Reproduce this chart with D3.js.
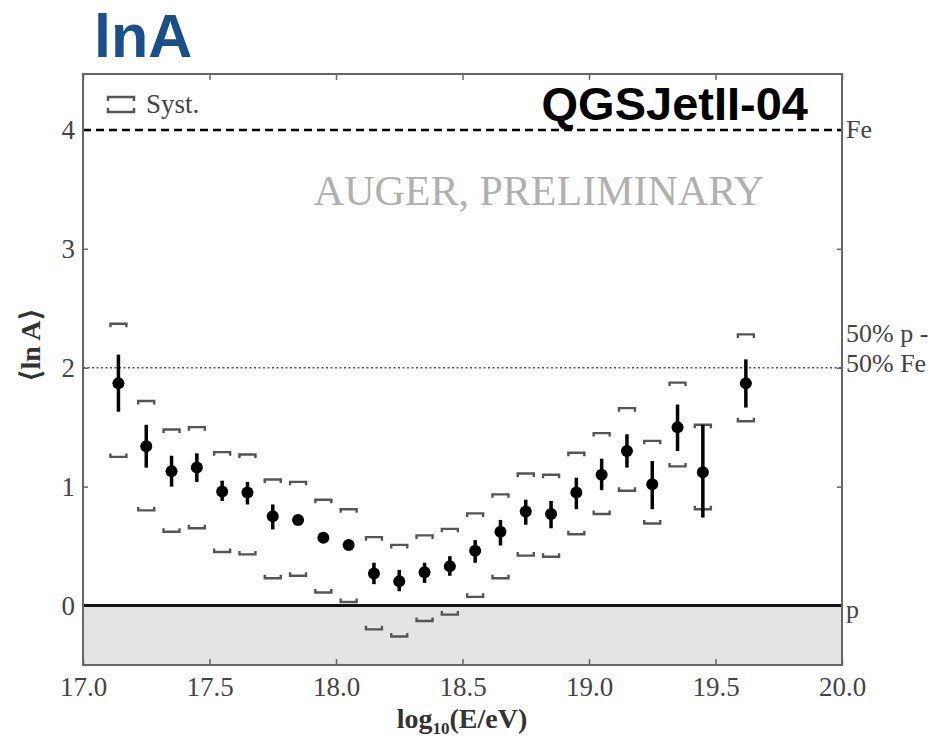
<!DOCTYPE html>
<html>
<head>
<meta charset="utf-8">
<script src="https://cdn.jsdelivr.net/npm/d3@7"></script>
<style>
  html, body { margin: 0; padding: 0; background: #fff; }
  svg { display: block; }
</style>
</head>
<body>
<svg id="chart" width="938" height="740"></svg>
<script>
// ---- data ----
const logE   = [17.14, 17.25, 17.35, 17.45, 17.55, 17.65, 17.75, 17.85, 17.95, 18.05,
                18.15, 18.25, 18.35, 18.45, 18.55, 18.65, 18.75, 18.85, 18.95, 19.05,
                19.15, 19.25, 19.35, 19.45, 19.62];
const lnA    = [1.87, 1.34, 1.13, 1.16, 0.96, 0.95, 0.75, 0.72, 0.57, 0.51,
                0.27, 0.205, 0.28, 0.33, 0.46, 0.62, 0.79, 0.77, 0.95, 1.10,
                1.30, 1.02, 1.50, 1.12, 1.87];
const statLo = [1.63, 1.16, 1.00, 1.04, 0.88, 0.85, 0.64, 0.68, 0.54, 0.48,
                0.18, 0.12, 0.19, 0.25, 0.36, 0.505, 0.68, 0.65, 0.81, 0.97,
                1.16, 0.81, 1.30, 0.74, 1.665];
const statHi = [2.11, 1.52, 1.26, 1.28, 1.05, 1.04, 0.85, 0.76, 0.60, 0.54,
                0.36, 0.30, 0.36, 0.415, 0.55, 0.72, 0.89, 0.88, 1.075, 1.235,
                1.44, 1.215, 1.69, 1.52, 2.07];
const systLo = [1.25, 0.80, 0.62, 0.65, 0.45, 0.43, 0.23, 0.25, 0.11, 0.03,
                -0.20, -0.26, -0.13, -0.076, 0.073, 0.23, 0.42, 0.41, 0.60, 0.77,
                0.965, 0.69, 1.17, 0.81, 1.55];
const systHi = [2.37, 1.72, 1.48, 1.50, 1.29, 1.27, 1.06, 1.04, 0.89, 0.81,
                0.575, 0.51, 0.59, 0.645, 0.775, 0.935, 1.11, 1.10, 1.285, 1.45,
                1.66, 1.385, 1.875, 1.52, 2.28];
const xTicks = [17.0, 17.5, 18.0, 18.5, 19.0, 19.5, 20.0];
const yTicks = [0, 1, 2, 3, 4];
const refLevels = [
  {value: 4, kind: "fe"},
  {value: 2, kind: "mix"},
  {value: 0, kind: "p"}
];

// ---- layout ----
const svg = d3.select("#chart");
const L = 83, R = 842, T = 74, B = 665;
const x = d3.scaleLinear().domain([17, 20]).range([L, R]);
const y = d3.scaleLinear().domain([-0.5, 4.47]).range([B, T]);
const serif = "'Liberation Serif','Times New Roman',serif";
const sans = "'Liberation Sans',Arial,Helvetica,sans-serif";

// title
svg.append("text").attr("x", 94).attr("y", 57)
  .attr("font-family", sans).attr("font-weight", "bold").attr("font-size", 61)
  .attr("fill", "#1a4f8a").text("lnA");

// proton region fill
svg.append("rect").attr("x", L).attr("y", y(0)).attr("width", R - L).attr("height", B - y(0))
  .attr("fill", "#e4e4e4");

// axes (inward ticks)
const axisCol = "#666";
function styleAxis(g) {
  g.select(".domain").remove();
  g.selectAll(".tick line").attr("stroke", axisCol).attr("stroke-width", 1.5);
}
svg.append("g").attr("transform", `translate(0,${B})`)
  .call(d3.axisBottom(x).tickValues(xTicks).tickSize(-6).tickPadding(12).tickFormat(d3.format(".1f")))
  .call(styleAxis)
  .call(g => g.selectAll("text").attr("font-family", serif).attr("font-size", 27).attr("fill", "#444"));
svg.append("g").attr("transform", `translate(0,${T})`)
  .call(d3.axisTop(x).tickValues(xTicks).tickSize(-6).tickFormat(""))
  .call(styleAxis);
svg.append("g").attr("transform", `translate(${L},0)`)
  .call(d3.axisLeft(y).tickValues(yTicks).tickSize(-5).tickPadding(8).tickFormat(d3.format("d")))
  .call(styleAxis)
  .call(g => g.selectAll("text").attr("font-family", serif).attr("font-size", 27).attr("fill", "#444"));
svg.append("g").attr("transform", `translate(${R},0)`)
  .call(d3.axisRight(y).tickValues(yTicks).tickSize(-5).tickFormat(""))
  .call(styleAxis);

// reference lines
refLevels.forEach(r => {
  const ln = svg.append("line").attr("x1", L).attr("x2", R).attr("y1", y(r.value)).attr("y2", y(r.value));
  if (r.kind === "fe") ln.attr("stroke", "#000").attr("stroke-width", 2.5).attr("stroke-dasharray", "8,5");
  else if (r.kind === "mix") ln.attr("stroke", "#555").attr("stroke-width", 1.5).attr("stroke-dasharray", "2,2.5");
  else ln.attr("stroke", "#111").attr("stroke-width", 3);
});

// frame
svg.append("rect").attr("x", L).attr("y", T).attr("width", R - L).attr("height", B - T)
  .attr("fill", "none").attr("stroke", axisCol).attr("stroke-width", 2);

// right labels
const rl = svg.append("g").attr("font-family", serif).attr("font-size", 26).attr("fill", "#444");
rl.append("text").attr("x", R + 4).attr("y", y(4) + 8).text("Fe");
rl.append("text").attr("x", R + 4).attr("y", y(2) - 26).text("50% p -");
rl.append("text").attr("x", R + 4).attr("y", y(2) + 4).text("50% Fe");
rl.append("text").attr("x", R + 4).attr("y", y(0) + 12).text("p");

// watermark
svg.append("text").attr("x", 539).attr("y", 205).attr("text-anchor", "middle")
  .attr("font-family", serif).attr("font-size", 42).attr("fill", "#b0b0b0")
  .text("AUGER, PRELIMINARY");

// model label
svg.append("text").attr("x", 808).attr("y", 120).attr("text-anchor", "end")
  .attr("font-family", sans).attr("font-weight", "bold").attr("font-size", 47)
  .attr("fill", "#000").text("QGSJetII-04");

// legend
const bracketUp = (cx, cy, w, h) => `M${cx - w / 2},${cy + h}V${cy}H${cx + w / 2}V${cy + h}`;
const bracketDn = (cx, cy, w, h) => `M${cx - w / 2},${cy - h}V${cy}H${cx + w / 2}V${cy - h}`;
const leg = svg.append("g");
leg.append("path").attr("d", bracketUp(121, 97, 26, 4)).attr("fill", "none").attr("stroke", "#555").attr("stroke-width", 2.5);
leg.append("path").attr("d", bracketDn(121, 112, 26, 4)).attr("fill", "none").attr("stroke", "#555").attr("stroke-width", 2.5);
leg.append("text").attr("x", 146).attr("y", 113).attr("font-family", serif).attr("font-size", 27)
  .attr("fill", "#444").text("Syst.");

// data
const data = logE.map((e, i) => ({e, v: lnA[i], lo: statLo[i], hi: statHi[i], sl: systLo[i], sh: systHi[i]}));
const g = svg.append("g");
g.selectAll("path.sh").data(data).join("path").attr("class", "sh")
  .attr("d", d => bracketUp(x(d.e), y(d.sh), 16, 3.5))
  .attr("fill", "none").attr("stroke", "#555").attr("stroke-width", 2.4);
g.selectAll("path.sl").data(data).join("path").attr("class", "sl")
  .attr("d", d => bracketDn(x(d.e), y(d.sl), 16, 3.5))
  .attr("fill", "none").attr("stroke", "#555").attr("stroke-width", 2.4);
g.selectAll("line.err").data(data).join("line").attr("class", "err")
  .attr("x1", d => x(d.e)).attr("x2", d => x(d.e))
  .attr("y1", d => y(d.lo)).attr("y2", d => y(d.hi))
  .attr("stroke", "#000").attr("stroke-width", 3.5);
g.selectAll("circle").data(data).join("circle")
  .attr("cx", d => x(d.e)).attr("cy", d => y(d.v)).attr("r", 6).attr("fill", "#000");

// axis titles
const xl = svg.append("text").attr("x", 462).attr("y", 728).attr("text-anchor", "middle")
  .attr("font-family", serif).attr("font-weight", "bold").attr("font-size", 28).attr("fill", "#333");
xl.append("tspan").text("log");
xl.append("tspan").attr("font-size", 17).attr("dy", 6).text("10");
xl.append("tspan").attr("dy", -6).text("(E/eV)");

svg.append("text").attr("transform", "translate(40,345) rotate(-90)").attr("text-anchor", "middle")
  .attr("font-family", serif).attr("font-weight", "bold").attr("font-size", 28).attr("fill", "#333")
  .text("\u27E8ln A\u27E9");
</script>
</body>
</html>
